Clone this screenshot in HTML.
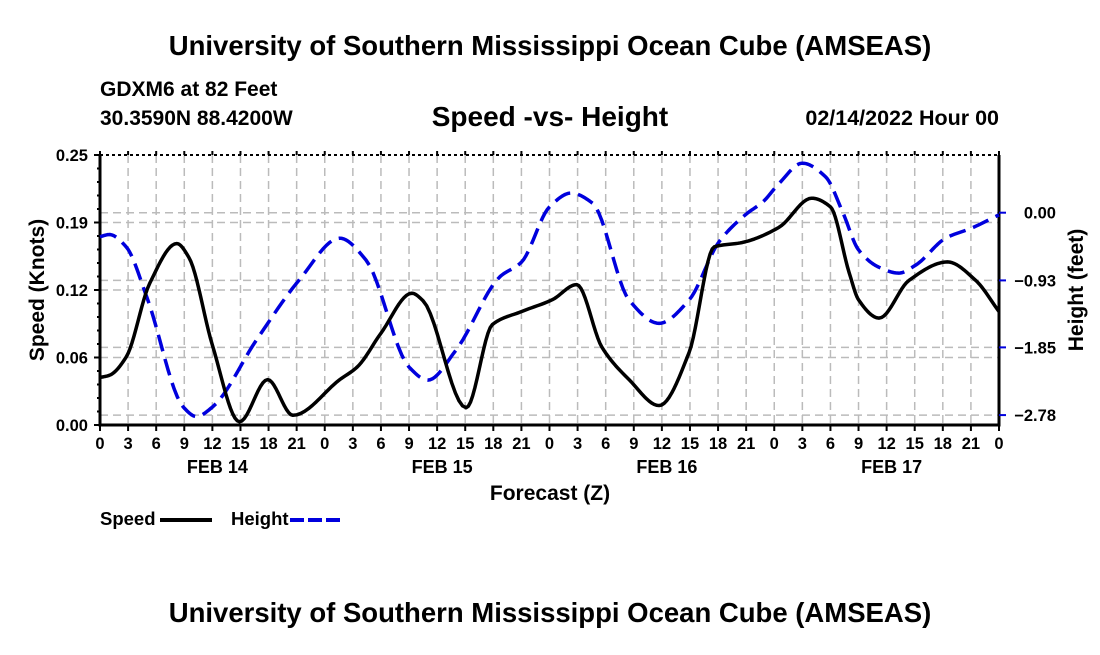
<!DOCTYPE html>
<html><head><meta charset="utf-8"><style>
body{margin:0;background:#fff;}
svg text{font-family:"Liberation Sans",sans-serif;font-weight:bold;fill:#000;}
</style></head><body>
<svg width="1100" height="650" viewBox="0 0 1100 650">
<text x="550" y="55" font-size="27.5" text-anchor="middle">University of Southern Mississippi Ocean Cube (AMSEAS)</text>
<text x="100" y="96" font-size="21">GDXM6 at 82 Feet</text>
<text x="100" y="125" font-size="21">30.3590N  88.4200W</text>
<text x="550" y="126" font-size="28" text-anchor="middle">Speed -vs- Height</text>
<text x="999" y="125" font-size="21.5" text-anchor="end">02/14/2022 Hour 00</text>
<g id="grid"></g>
<g id="axes"></g>
<g id="series"></g>
<text x="550" y="500" font-size="21" text-anchor="middle">Forecast (Z)</text>
<text transform="translate(44,290) rotate(-90)" font-size="21" text-anchor="middle">Speed (Knots)</text>
<text transform="translate(1083,290) rotate(-90)" font-size="21" text-anchor="middle">Height (feet)</text>
<g>
<text x="100" y="525" font-size="18.5">Speed</text>
<line x1="160" y1="520" x2="212" y2="520" stroke="#000" stroke-width="4"/>
<text x="231" y="525" font-size="18.5">Height</text>
<line x1="290" y1="520" x2="342" y2="520" stroke="#0000dd" stroke-width="4" stroke-dasharray="14,4"/>
</g>
<text x="550" y="622" font-size="27.5" text-anchor="middle">University of Southern Mississippi Ocean Cube (AMSEAS)</text>
</svg>
<script>
const speedHours=[0,1,2.8,5.3,8.2,9.5,12,14.9,17.9,20.6,25.6,27.5,30,33.3,34.5,39.1,41.9,45,48.3,50.9,53.6,56.5,59.7,62.9,65.6,68.6,72.5,76,78,80,81,83.2,86.4,90.5,93.5,96];
const speedValues=[0.044,0.046,0.063,0.131,0.168,0.155,0.074,0.003,0.042,0.009,0.042,0.054,0.085,0.122,0.115,0.016,0.093,0.105,0.116,0.130,0.072,0.042,0.018,0.067,0.165,0.169,0.183,0.21,0.202,0.141,0.116,0.099,0.134,0.151,0.134,0.105];
const heightHours=[0,1,2.8,5,8.9,10.3,12,16.7,21.3,25.6,28.4,33,35,38,42.7,45,48,50.3,52.6,56.5,59.7,62.9,66.1,69,70.8,72.5,75,77.5,79.3,81,83.2,85.3,87.1,90.3,93.1,96];
const heightValues=[-0.33,-0.30,-0.47,-1.16,-2.67,-2.80,-2.67,-1.75,-0.92,-0.35,-0.65,-2.12,-2.30,-1.89,-0.88,-0.68,0.08,0.27,0.13,-1.20,-1.52,-1.20,-0.40,-0.02,0.15,0.40,0.68,0.49,0.01,-0.51,-0.75,-0.83,-0.72,-0.35,-0.21,-0.03];
const speedTicks=["0.00","0.06","0.12","0.19","0.25"];
const heightTicks=[-2.78,-1.85,-0.93,0.00];
const heightTickLabels=["\u22122.78","\u22121.85","\u22120.93","0.00"];
const dayLabels=["FEB 14","FEB 15","FEB 16","FEB 17"];
const X0=100,X1=999,YT=155,YB=425;
const xs=h=>X0+(X1-X0)*h/96;
const ys=v=>YB-(YB-YT)*v/0.25;
const yh=v=>212.7-72.8*v;
const NS="http://www.w3.org/2000/svg";
function mk(t,a,p){const e=document.createElementNS(NS,t);for(const k in a)e.setAttribute(k,a[k]);p.appendChild(e);return e;}
const grid=document.getElementById('grid'),axes=document.getElementById('axes'),ser=document.getElementById('series');
for(let h=3;h<96;h+=3){const l=mk('line',{x1:xs(h),x2:xs(h),y1:YT,y2:YB,stroke:'#bbb','stroke-width':1.5,'stroke-dasharray':'8,5'},grid);

}
for(let i=1;i<4;i++){const y=YB-(YB-YT)*i/4;const l=mk('line',{x1:X0,x2:X1,y1:y,y2:y,stroke:'#bbb','stroke-width':1.5,'stroke-dasharray':'8,5'},grid);

}
heightTicks.forEach(v=>{const l=mk('line',{x1:X0,x2:X1,y1:yh(v),y2:yh(v),stroke:'#bbb','stroke-width':1.5,'stroke-dasharray':'8,5'},grid);

});
const fr=mk('path',{d:`M${X0},${YT}V${YB}H${X1}V${YT}`,fill:'none',stroke:'#000','stroke-width':3},axes);


const tp=mk('line',{x1:X0,x2:X1,y1:YT,y2:YT,stroke:'#000','stroke-width':2,'stroke-dasharray':'3,3'},axes);


for(let h=0;h<=96;h+=3){const t=mk('line',{x1:xs(h),x2:xs(h),y1:YB,y2:YB+6,stroke:'#000','stroke-width':2},axes);


const t2=mk('line',{x1:xs(h),x2:xs(h),y1:YT,y2:YT-4,stroke:'#000','stroke-width':2},axes);


const tx=mk('text',{x:xs(h),y:YB+24,'font-size':16.5,'text-anchor':'middle'},axes);tx.textContent=String(h%24);

}
dayLabels.forEach((d,i)=>{const tx=mk('text',{x:xs(12+24*i)+5,y:YB+48,'font-size':18,'text-anchor':'middle'},axes);tx.textContent=d;

});
for(let i=0;i<=20;i++){const y=YB-(YB-YT)*i/20;const w=i%5==0?6:3;const t=mk('line',{x1:X0-w,x2:X0,y1:y,y2:y,stroke:'#000','stroke-width':2},axes);

}
speedTicks.forEach((s,i)=>{const tx=mk('text',{x:X0-12,y:YB-(YB-YT)*i/4+6,'font-size':16.5,'text-anchor':'end'},axes);tx.textContent=s;

});
heightTicks.forEach((v,i)=>{const t=mk('line',{x1:X1,x2:X1+7,y1:yh(v),y2:yh(v),stroke:'#0000dd','stroke-width':2},axes);


const tx=mk('text',{x:1056,y:yh(v)+6,'font-size':16.5,'text-anchor':'end'},axes);tx.textContent=heightTickLabels[i];

});
// monotone cubic (Fritsch-Carlson) in data space, sampled to pixels
function monoPath(X,Y,fx,fy){const n=X.length,d=[],m=new Array(n);
for(let i=0;i<n-1;i++)d.push((Y[i+1]-Y[i])/(X[i+1]-X[i]));
m[0]=d[0];m[n-1]=d[n-2];
for(let i=1;i<n-1;i++){if(d[i-1]*d[i]<=0)m[i]=0;else{const w1=2*(X[i+1]-X[i])+(X[i]-X[i-1]),w2=(X[i+1]-X[i])+2*(X[i]-X[i-1]);m[i]=(w1+w2)/(w1/d[i-1]+w2/d[i]);}}
let p=`M${fx(X[0])},${fy(Y[0])}`;
for(let i=0;i<n-1;i++){const h=X[i+1]-X[i];for(let s=1;s<=12;s++){const t=s/12,t2=t*t,t3=t2*t;
const v=(2*t3-3*t2+1)*Y[i]+(t3-2*t2+t)*h*m[i]+(-2*t3+3*t2)*Y[i+1]+(t3-t2)*h*m[i+1];
p+=`L${fx(X[i]+t*h).toFixed(2)},${fy(v).toFixed(2)}`;}}
return p;}
const hp=mk('path',{d:monoPath(heightHours,heightValues,xs,yh),fill:'none',stroke:'#0000dd','stroke-width':3.5,'stroke-dasharray':'17,8','stroke-linejoin':'round'},ser);


const sp=mk('path',{d:monoPath(speedHours,speedValues,xs,ys),fill:'none',stroke:'#000','stroke-width':3.5,'stroke-linejoin':'round'},ser);


</script>
</body></html>
